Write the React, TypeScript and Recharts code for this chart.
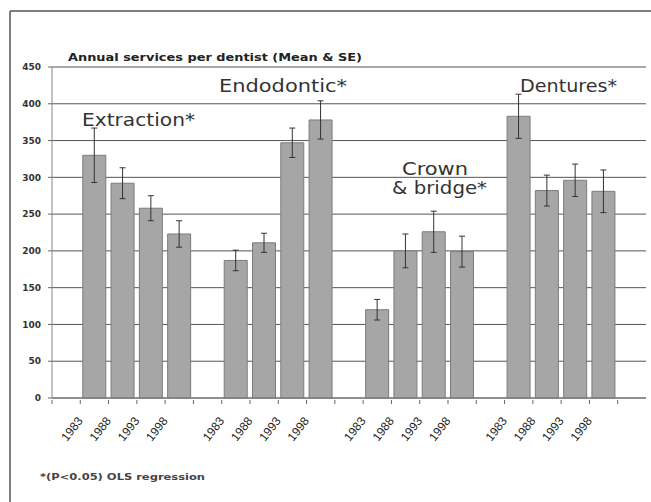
import { BarChart, Bar, XAxis, YAxis, CartesianGrid, ErrorBar, Customized } from "recharts";

const years = ["1983", "1988", "1993", "1998"];
const groupNames = ["Extraction", "Endodontic", "Crown & bridge", "Dentures"];

const extraction = [330, 292, 258, 223];
const extractionSE = [37, 21, 17, 18];
const endodontic = [187, 211, 347, 378];
const endodonticSE = [14, 13, 20, 26];
const crown = [120, 200, 226, 199];
const crownSE = [14, 23, 28, 21];
const dentures = [383, 282, 296, 281];
const denturesSE = [30, 21, 22, 29];

const yTicks = [0, 50, 100, 150, 200, 250, 300, 350, 400, 450];

const series = [
  [extraction, extractionSE],
  [endodontic, endodonticSE],
  [crown, crownSE],
  [dentures, denturesSE],
];

// empty slot before each group and one at the end, like the original sheet
const rows: any[] = [];
series.forEach(([vals, se], g) => {
  rows.push({ key: `gap${g}`, year: "" });
  years.forEach((yr, i) => {
    rows.push({ key: `${groupNames[g]}-${yr}`, year: yr, value: vals[i], se: se[i] });
  });
});
rows.push({ key: "gapEnd", year: "" });

const FONT = "'DejaVu Sans', Arial, sans-serif";

const YearTick = (props: any) => {
  const { x, y, payload } = props;
  const row = rows.find((r) => r.key === payload.value);
  return (
    <g>
      <line x1={x - 14.15} y1={y} x2={x - 14.15} y2={y + 4} stroke="#666" />
      {row && row.year && (
        <g transform={`translate(${x - 11},${y + 21})`}>
          <text
            x={0}
            y={0}
            textAnchor="end"
            transform="rotate(-52)"
            fontSize={12}
            fontFamily="Arial, 'Liberation Sans', sans-serif"
            fill="#222"
          >
            {row.year}
          </text>
        </g>
      )}
    </g>
  );
};

const Annotations = () => (
  <g fontFamily={FONT} fill="#333">
    <line x1={10} y1={11} x2={651} y2={11} stroke="#555" strokeWidth={1.5} />
    <line x1={10} y1={11} x2={10} y2={502} stroke="#555" strokeWidth={1.5} />
    <text x={68} y={61} fontSize={10} fontWeight="bold" textLength={294} lengthAdjust="spacingAndGlyphs" fill="#222">
      Annual services per dentist (Mean &amp; SE)
    </text>
    <text x={82} y={126} fontSize={18} textLength={113} lengthAdjust="spacingAndGlyphs">Extraction*</text>
    <text x={219} y={92} fontSize={18} textLength={128} lengthAdjust="spacingAndGlyphs">Endodontic*</text>
    <text x={402} y={175} fontSize={18} textLength={66} lengthAdjust="spacingAndGlyphs">Crown</text>
    <text x={392} y={194} fontSize={18} textLength={95} lengthAdjust="spacingAndGlyphs">&amp; bridge*</text>
    <text x={520} y={92} fontSize={18} textLength={97} lengthAdjust="spacingAndGlyphs">Dentures*</text>
    <text x={40} y={480} fontSize={9} fontWeight="bold" textLength={165} lengthAdjust="spacingAndGlyphs" fill="#444">
      *(P&lt;0.05) OLS regression
    </text>
  </g>
);

export default function App() {
  return (
    <div style={{ position: "absolute", left: 0, top: 0, width: 651, height: 502, background: "#fff" }}>
      <BarChart
        width={651}
        height={502}
        data={rows}
        margin={{ top: 67, right: 5, bottom: 44, left: 8 }}
        barCategoryGap={2.5}
      >
        <CartesianGrid horizontal vertical={false} stroke="#555" />
        <XAxis
          dataKey="key"
          interval={0}
          tickSize={0}
          tick={<YearTick />}
          height={60}
          axisLine={{ stroke: "#777" }}
        />
        <YAxis
          domain={[0, 450]}
          ticks={yTicks}
          width={44}
          tickSize={4}
          tickMargin={7}
          axisLine={{ stroke: "#888" }}
          tickLine={{ stroke: "#666" }}
          tick={{ fontSize: 9, fontWeight: "bold", fontFamily: FONT, fill: "#333" }}
        />
        <YAxis
          yAxisId="right"
          orientation="right"
          domain={[0, 450]}
          width={0}
          tick={false}
          tickLine={false}
          axisLine={{ stroke: "#999" }}
        />
        <Bar dataKey="value" fill="#a6a6a6" stroke="#7c7c7c" strokeWidth={1} isAnimationActive={false}>
          <ErrorBar dataKey="se" width={3} stroke="#333" strokeWidth={1} />
        </Bar>
        <Customized component={<Annotations />} />
      </BarChart>
    </div>
  );
}
